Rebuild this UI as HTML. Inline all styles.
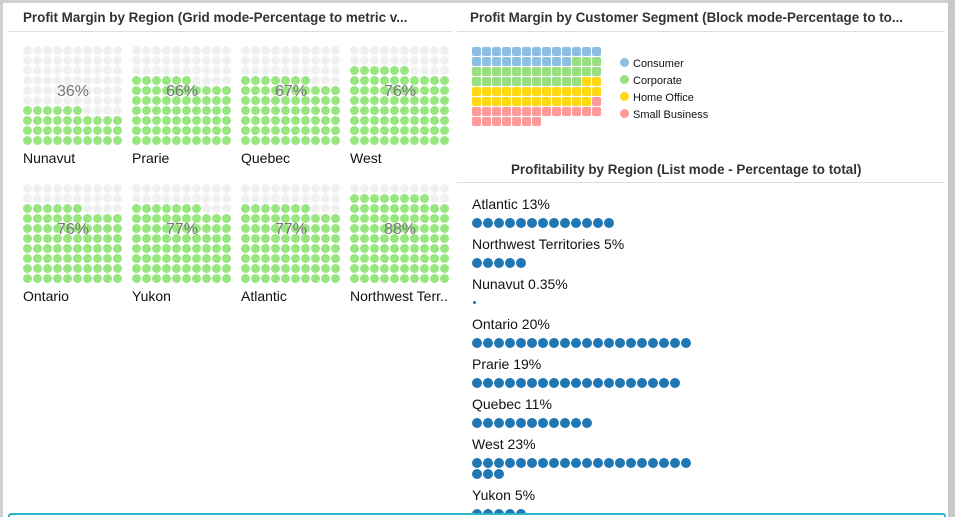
<!DOCTYPE html>
<html><head><style>
body{margin:0;width:955px;height:517px;background:#fff;font-family:"Liberation Sans",sans-serif;position:relative;overflow:hidden}
.a{position:absolute}
.t{font-weight:bold;font-size:13.4px;color:#333;white-space:nowrap}
.d{position:absolute;border-radius:50%}
.sq{position:absolute;width:9px;height:9px;border-radius:2px}
.lbl{position:absolute;font-size:14px;color:#111;white-space:nowrap}
.pct{position:absolute;font-size:16px;color:#777;width:100px;text-align:center}
#clip{position:absolute;left:0;top:0;width:955px;height:514px;overflow:hidden}
</style></head><body>
<div class="a" style="left:0;top:0;width:955px;height:3px;background:#d0d0d0"></div>
<div class="a" style="left:0;top:0;width:3px;height:517px;background:#d0d0d0"></div>
<div class="a" style="left:948px;top:0;width:7px;height:517px;background:#c8c8c8"></div>
<div class="a t" style="left:23px;top:10px">Profit Margin by Region (Grid mode-Percentage to metric v...</div>
<div class="a" style="left:8px;top:31px;width:444px;height:1px;background:#ddd"></div>
<div class="a t" style="left:470px;top:10px">Profit Margin by Customer Segment (Block mode-Percentage to to...</div>
<div class="a" style="left:457px;top:31px;width:488px;height:1px;background:#ddd"></div>
<div class="a t" style="left:511px;top:162px">Profitability by Region (List mode - Percentage to total)</div>
<div class="a" style="left:457px;top:182px;width:488px;height:1px;background:#ddd"></div>
<div id="clip"><div id="c"></div></div>
<div class="a" style="left:8px;top:513px;width:938px;height:4px;border:2px solid #2bb5cf;border-bottom:none;border-radius:3px 3px 0 0;box-sizing:border-box"></div>
<div class="a" style="left:620px;top:56px;font-size:11px;color:#111;line-height:17px">
<div><span style="display:inline-block;width:9px;height:9px;border-radius:50%;background:#8dbfe3;margin-right:4px"></span>Consumer</div>
<div><span style="display:inline-block;width:9px;height:9px;border-radius:50%;background:#98df82;margin-right:4px"></span>Corporate</div>
<div><span style="display:inline-block;width:9px;height:9px;border-radius:50%;background:#ffd814;margin-right:4px"></span>Home Office</div>
<div><span style="display:inline-block;width:9px;height:9px;border-radius:50%;background:#ff9a9a;margin-right:4px"></span>Small Business</div>
</div>
<script>
var h='';
var g=[["Nunavut",36],["Prarie",66],["Quebec",67],["West",76],["Ontario",76],["Yukon",77],["Atlantic",77],["Northwest Terr..",88]];
g.forEach(function(e,i){
 var x0=23+(i%4)*109,y0=i<4?46:184;
 for(var r=0;r<10;r++)for(var c=0;c<10;c++){
  var idx=(9-r)*10+c; var col=idx<e[1]?'#98e67f':'#f0f0f0';
  h+='<div class="d" style="left:'+(x0+c*10)+'px;top:'+(y0+r*10)+'px;width:9px;height:9px;background:'+col+'"></div>';
 }
 h+='<div class="pct" style="left:'+x0+'px;top:'+(y0+37)+'px">'+e[1]+'%</div>';
 h+='<div class="lbl" style="left:'+x0+'px;top:'+(y0+104)+'px">'+e[0]+'</div>';
});
var cols={b:'#8dbfe3',g:'#98df82',y:'#ffd814',r:'#ff9a9a'};
var seq=[[13,'b'],[10,'b'],[3,'g'],[13,'g'],[11,'g'],[2,'y'],[13,'y'],[12,'y'],[1,'r'],[13,'r'],[7,'r']];
var k=0;seq.forEach(function(s){for(var j=0;j<s[0];j++){var r=Math.floor(k/13),c=k%13;
 h+='<div class="sq" style="left:'+(472+c*10)+'px;top:'+(47+r*10)+'px;background:'+cols[s[1]]+'"></div>';k++;}});
var L=[["Atlantic 13%",13],["Northwest Territories 5%",5],["Nunavut 0.35%",0],["Ontario 20%",20],["Prarie 19%",19],["Quebec 11%",11],["West 23%",23],["Yukon 5%",5]];
var y=196;
L.forEach(function(e){
 h+='<div class="lbl" style="left:472px;top:'+y+'px">'+e[0]+'</div>';
 var dy=y+22;
 if(e[1]==0)h+='<div class="d" style="left:473px;top:'+(dy+3)+'px;width:3px;height:3px;background:#1f77b4"></div>';
 for(var j=0;j<e[1];j++){var r=Math.floor(j/20),c=j%20;
  h+='<div class="d" style="left:'+(472+c*11)+'px;top:'+(dy+r*11)+'px;width:10px;height:10px;background:#1f77b4"></div>';}
 y+=40+(e[1]>20?11:0);
});
document.getElementById('c').innerHTML=h;
</script>
</body></html>
